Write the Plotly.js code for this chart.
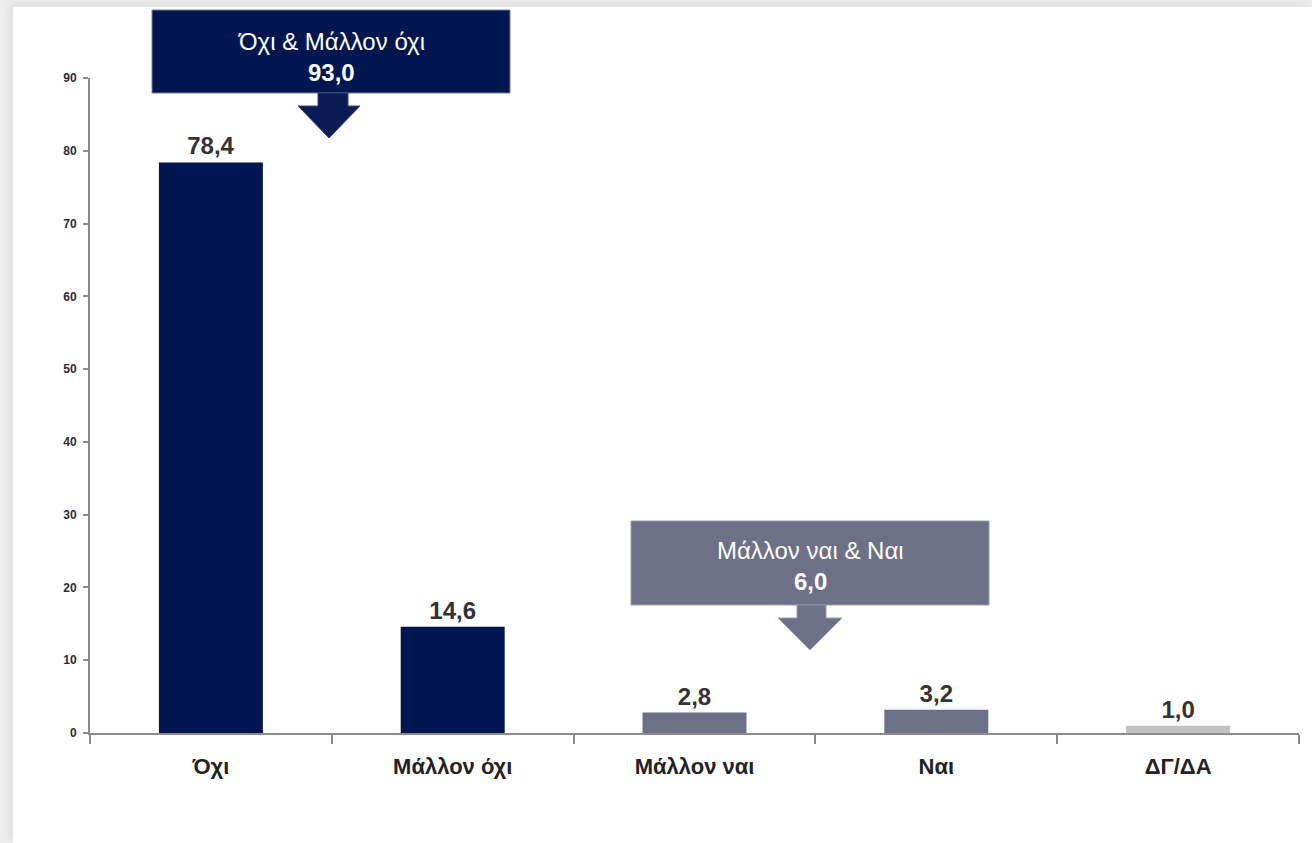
<!DOCTYPE html>
<html>
<head>
<meta charset="utf-8">
<script src="https://cdn.plot.ly/plotly-3.0.1.min.js"></script>
<style>
  html, body { margin:0; padding:0; width:1312px; height:843px; overflow:hidden; background:#ededed; }
  #bg { position:absolute; left:13px; top:7px; width:1299px; height:836px; background:#ffffff; box-shadow:-4px -3px 8px rgba(0,0,0,0.06); }
  #chart { position:absolute; left:0; top:0; width:1312px; height:843px; }
</style>
</head>
<body>
<div id="bg"></div>
<div id="chart"></div>
<script>
const categories = ["Όχι", "Μάλλον όχι", "Μάλλον ναι", "Ναι", "ΔΓ/ΔΑ"];
const values = [78.4, 14.6, 2.8, 3.2, 1.0];
const barColors = ["#001650", "#001650", "#6d7087", "#6d7087", "#c0c0c0"];
const yTicks = [0, 10, 20, 30, 40, 50, 60, 70, 80, 90];
const groupNoLabel = "Όχι & Μάλλον όχι";
const groupYesLabel = "Μάλλον ναι & Ναι";

const totalNo = values[0] + values[1];
const totalYes = values[2] + values[3];
const fmt = v => v.toFixed(1).replace(".", ",");

const font = "'Liberation Sans Narrow', 'Arial Narrow', 'Liberation Sans', Arial, sans-serif";

// pixel helpers for plot area: left 90, right 1299, top 78, bottom 733
const L = 90, R = 1299, T = 78, B = 733;
const px = x => (x - L) / (R - L);
const py = y => (B - y) / (B - T);

function arrowPath(stemL, stemR, top, triTop, triL, triR, tipX, tipY) {
  return "M" + px(stemL) + "," + py(top) +
         " L" + px(stemR) + "," + py(top) +
         " L" + px(stemR) + "," + py(triTop) +
         " L" + px(triR) + "," + py(triTop) +
         " L" + px(tipX) + "," + py(tipY) +
         " L" + px(triL) + "," + py(triTop) +
         " L" + px(stemL) + "," + py(triTop) + " Z";
}

const trace = {
  type: "bar",
  x: categories,
  y: values,
  marker: { color: barColors, line: { width: 0 } },
  texttemplate: "%{y:.1f}",
  textposition: "outside",
  cliponaxis: false,
  textfont: { family: font, size: 24, color: "#333333", weight: "bold" },
  hoverinfo: "skip"
};

const layout = {
  width: 1312, height: 843,
  margin: { l: L, r: 1312 - R, t: T, b: 843 - B },
  paper_bgcolor: "rgba(0,0,0,0)",
  plot_bgcolor: "rgba(0,0,0,0)",
  separators: ",.",
  showlegend: false,
  bargap: 0.57,
  xaxis: {
    type: "category",
    range: [-0.5, 4.5],
    showline: true, linecolor: "#8c8c8c", linewidth: 2,
    ticks: "outside", tickson: "boundaries", ticklen: 9, tickcolor: "#8c8c8c", tickwidth: 2,
    ticklabelstandoff: 13,
    tickfont: { family: font, size: 22, color: "#222222", weight: "bold" },
    showgrid: false, zeroline: false, fixedrange: true
  },
  yaxis: {
    range: [0, 90],
    tickvals: yTicks,
    ticktext: yTicks.map(String),
    showline: true, linecolor: "#8c8c8c", linewidth: 2,
    ticks: "outside", ticklen: 5, tickcolor: "#8c8c8c", tickwidth: 2,
    ticklabelstandoff: 4,
    tickfont: { family: font, size: 12, color: "#2a2a3a", weight: "bold" },
    showgrid: false, zeroline: false, fixedrange: true
  },
  shapes: [
    { type: "rect", xref: "paper", yref: "paper",
      x0: px(152), x1: px(510), y0: py(93), y1: py(10),
      fillcolor: "#001650", line: { color: "#7a7f95", width: 1 } },
    { type: "path", xref: "paper", yref: "paper",
      path: arrowPath(318, 348, 93, 106, 298, 360, 329, 138),
      fillcolor: "#0a1c55", line: { color: "#3a4470", width: 1 } },
    { type: "rect", xref: "paper", yref: "paper",
      x0: px(631), x1: px(989), y0: py(605), y1: py(521),
      fillcolor: "#6d7087", line: { color: "#9a9cac", width: 1 } },
    { type: "path", xref: "paper", yref: "paper",
      path: arrowPath(797, 826, 605, 618, 778, 842, 810, 650),
      fillcolor: "#6d7087", line: { color: "#9a9cac", width: 1 } }
  ],
  annotations: [
    { xref: "paper", yref: "paper", x: px(331), y: py(42), xanchor: "center", yanchor: "middle",
      text: groupNoLabel, showarrow: false,
      font: { family: font, size: 24, color: "#ffffff" } },
    { xref: "paper", yref: "paper", x: px(331), y: py(72), xanchor: "center", yanchor: "middle",
      text: "<b>" + fmt(totalNo) + "</b>", showarrow: false,
      font: { family: font, size: 24, color: "#ffffff" } },
    { xref: "paper", yref: "paper", x: px(810), y: py(550), xanchor: "center", yanchor: "middle",
      text: groupYesLabel, showarrow: false,
      font: { family: font, size: 24, color: "#ffffff" } },
    { xref: "paper", yref: "paper", x: px(810), y: py(581), xanchor: "center", yanchor: "middle",
      text: "<b>" + fmt(totalYes) + "</b>", showarrow: false,
      font: { family: font, size: 24, color: "#ffffff" } }
  ]
};

Plotly.newPlot("chart", [trace], layout, { displayModeBar: false, staticPlot: true });
</script>
</body>
</html>
